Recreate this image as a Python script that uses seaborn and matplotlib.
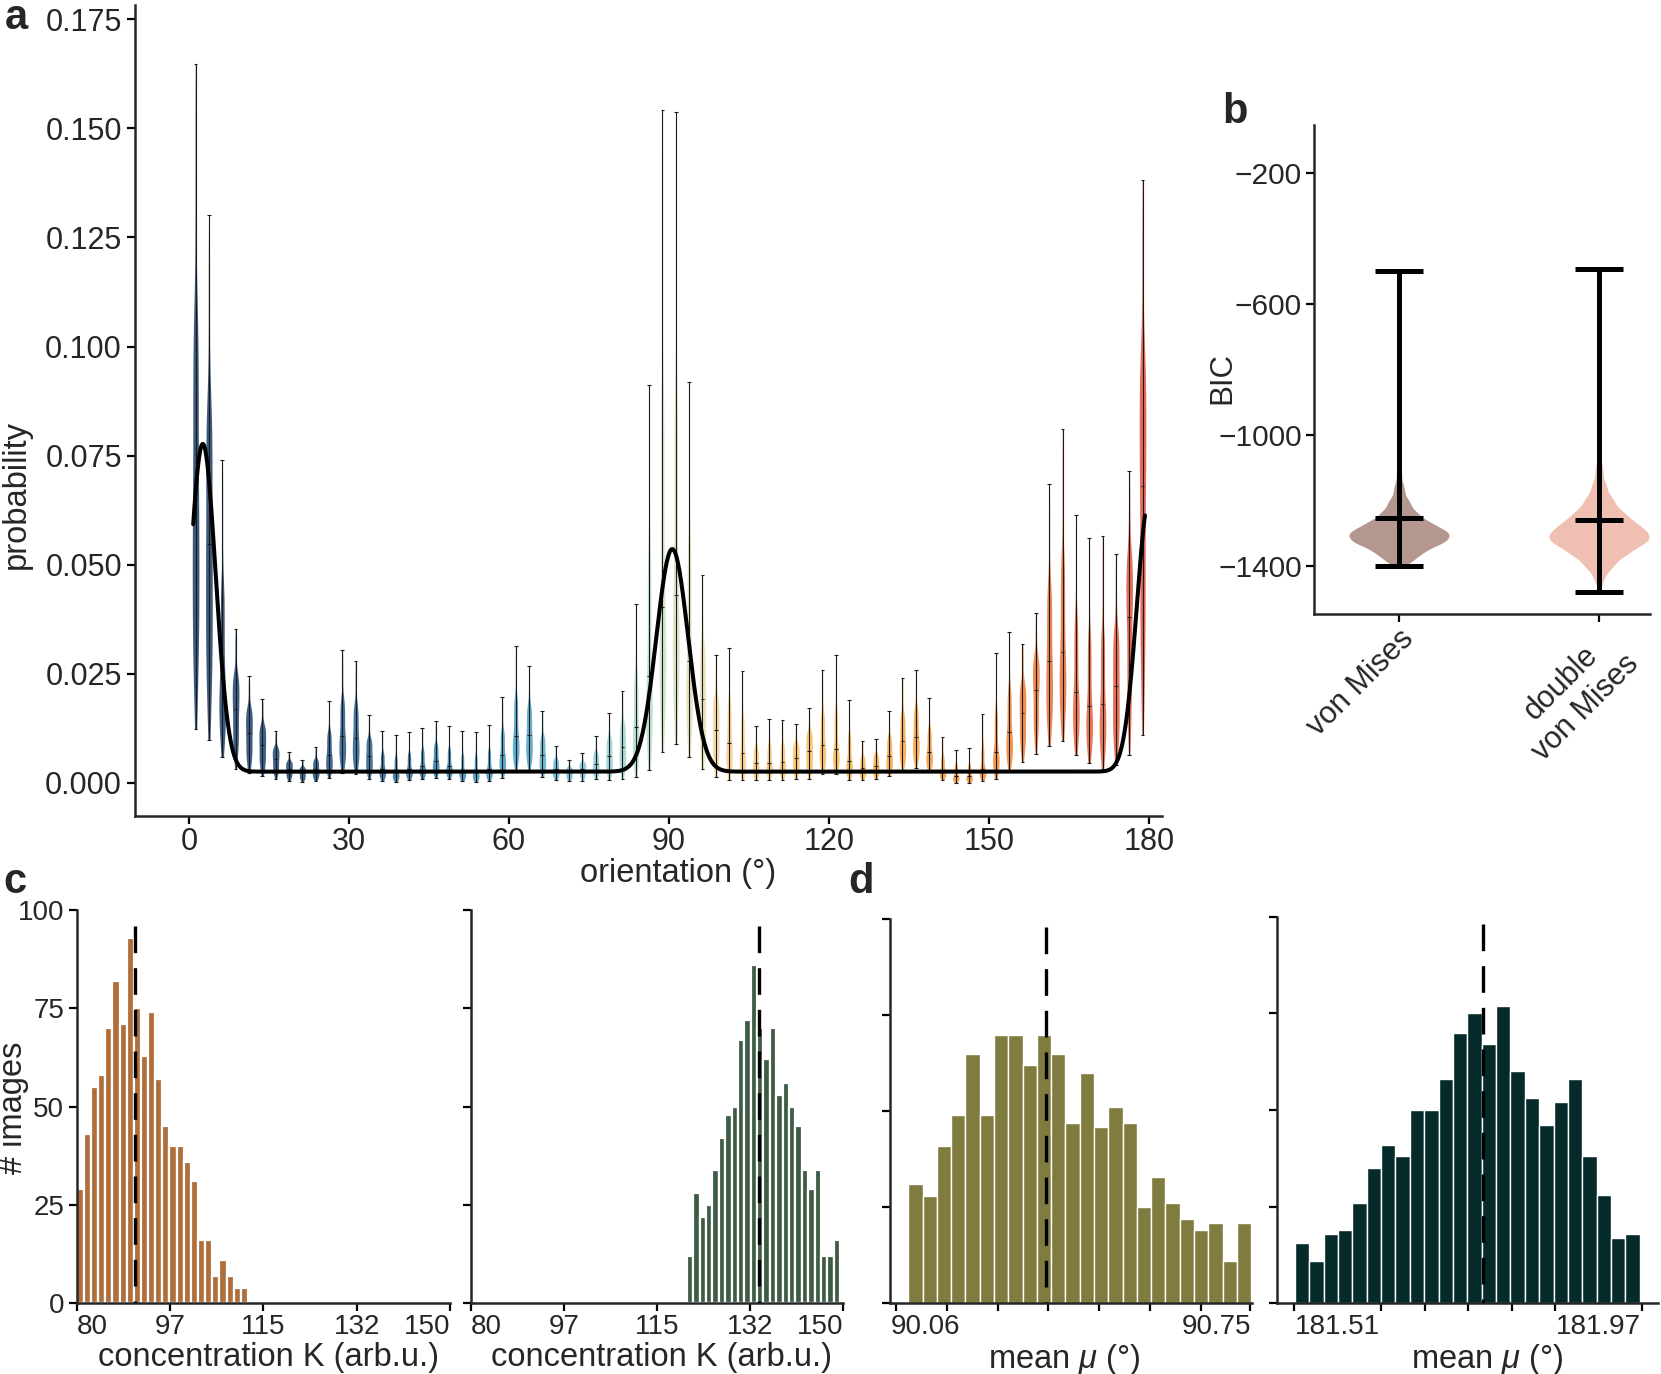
import numpy as np
import pandas as pd
import matplotlib
matplotlib.use("Agg")
import matplotlib.pyplot as plt
import seaborn as sns
from matplotlib.colors import LinearSegmentedColormap
from matplotlib.ticker import FixedLocator

sns.set_style("ticks")
plt.rcParams["font.family"] = ["Liberation Sans", "DejaVu Sans"]
plt.rcParams["mathtext.fontset"] = "custom"
plt.rcParams["mathtext.rm"] = "Liberation Sans"
plt.rcParams["mathtext.it"] = "Liberation Sans:italic"
plt.rcParams["axes.unicode_minus"] = True

# ------------------------------------------------------------------ panel a data
n_bins = 72
orient_centers = (np.arange(n_bins) + 0.5) * 180.0 / n_bins
prob_min = [0.0123, 0.0098, 0.0059, 0.0032, 0.0022, 0.0016, 0.0009, 0.0005, 0.0003, 0.0004,
            0.0011, 0.0022, 0.0020, 0.0009, 0.0005, 0.0002, 0.0006, 0.0008, 0.0012, 0.0009,
            0.0004, 0.0002, 0.0005, 0.0011, 0.0028, 0.0029, 0.0013, 0.0006, 0.0004, 0.0005,
            0.0008, 0.0007, 0.0009, 0.0014, 0.0029, 0.0071, 0.0089, 0.0060, 0.0033, 0.0013,
            0.0006, 0.0006, 0.0006, 0.0007, 0.0007, 0.0010, 0.0010, 0.0020, 0.0020, 0.0007,
            0.0006, 0.0008, 0.0015, 0.0029, 0.0035, 0.0024, 0.0006, 0.0000, 0.0000, 0.0004,
            0.0010, 0.0027, 0.0049, 0.0067, 0.0084, 0.0096, 0.0063, 0.0046, 0.0033, 0.0041,
            0.0063, 0.0111]
prob_q10 = [0.0280, 0.0233, 0.0113, 0.0073, 0.0050, 0.0037, 0.0023, 0.0013, 0.0009, 0.0012,
            0.0027, 0.0048, 0.0045, 0.0025, 0.0013, 0.0009, 0.0014, 0.0017, 0.0023, 0.0018,
            0.0011, 0.0009, 0.0013, 0.0027, 0.0052, 0.0053, 0.0028, 0.0014, 0.0010, 0.0013,
            0.0019, 0.0023, 0.0031, 0.0048, 0.0094, 0.0171, 0.0192, 0.0126, 0.0081, 0.0046,
            0.0032, 0.0025, 0.0018, 0.0019, 0.0019, 0.0024, 0.0029, 0.0040, 0.0037, 0.0020,
            0.0015, 0.0018, 0.0029, 0.0049, 0.0056, 0.0038, 0.0013, 0.0005, 0.0005, 0.0013,
            0.0028, 0.0054, 0.0082, 0.0111, 0.0143, 0.0158, 0.0107, 0.0085, 0.0077, 0.0095,
            0.0158, 0.0282]
prob_median = [0.0645, 0.0547, 0.0240, 0.0170, 0.0115, 0.0087, 0.0055, 0.0033, 0.0024, 0.0032,
               0.0064, 0.0108, 0.0104, 0.0062, 0.0033, 0.0024, 0.0032, 0.0038, 0.0050, 0.0038,
               0.0026, 0.0024, 0.0033, 0.0063, 0.0107, 0.0109, 0.0063, 0.0033, 0.0024, 0.0032,
               0.0043, 0.0061, 0.0082, 0.0128, 0.0246, 0.0403, 0.0431, 0.0280, 0.0192, 0.0122,
               0.0092, 0.0069, 0.0046, 0.0046, 0.0047, 0.0058, 0.0073, 0.0087, 0.0078, 0.0051,
               0.0035, 0.0040, 0.0062, 0.0096, 0.0105, 0.0071, 0.0030, 0.0017, 0.0016, 0.0033,
               0.0071, 0.0116, 0.0160, 0.0214, 0.0280, 0.0301, 0.0209, 0.0177, 0.0181, 0.0222,
               0.0381, 0.0681]
prob_q90 = [0.1096, 0.0886, 0.0465, 0.0252, 0.0174, 0.0134, 0.0083, 0.0051, 0.0037, 0.0055,
            0.0120, 0.0196, 0.0183, 0.0104, 0.0071, 0.0063, 0.0070, 0.0078, 0.0091, 0.0080,
            0.0067, 0.0066, 0.0078, 0.0123, 0.0200, 0.0181, 0.0109, 0.0056, 0.0037, 0.0048,
            0.0072, 0.0106, 0.0140, 0.0255, 0.0546, 0.0916, 0.0929, 0.0568, 0.0320, 0.0199,
            0.0190, 0.0154, 0.0084, 0.0091, 0.0091, 0.0092, 0.0118, 0.0164, 0.0175, 0.0114,
            0.0062, 0.0067, 0.0108, 0.0161, 0.0174, 0.0127, 0.0064, 0.0044, 0.0044, 0.0089,
            0.0173, 0.0220, 0.0231, 0.0293, 0.0463, 0.0531, 0.0391, 0.0350, 0.0355, 0.0358,
            0.0531, 0.0996]
prob_max = [0.1647, 0.1301, 0.0741, 0.0353, 0.0246, 0.0192, 0.0118, 0.0072, 0.0052, 0.0082,
            0.0188, 0.0304, 0.0279, 0.0155, 0.0118, 0.0111, 0.0117, 0.0126, 0.0141, 0.0131,
            0.0118, 0.0116, 0.0132, 0.0197, 0.0314, 0.0268, 0.0166, 0.0084, 0.0053, 0.0068,
            0.0108, 0.0161, 0.0211, 0.0410, 0.0913, 0.1542, 0.1538, 0.0919, 0.0477, 0.0293,
            0.0309, 0.0257, 0.0130, 0.0146, 0.0144, 0.0134, 0.0172, 0.0258, 0.0293, 0.0190,
            0.0096, 0.0100, 0.0165, 0.0241, 0.0258, 0.0195, 0.0106, 0.0076, 0.0079, 0.0157,
            0.0298, 0.0347, 0.0318, 0.0390, 0.0686, 0.0811, 0.0613, 0.0562, 0.0567, 0.0524,
            0.0714, 0.1381]
prob_levels = [0.0, 0.1, 0.5, 0.9, 1.0]

# fitted curve (sum of peaks over a constant baseline)
curve_range = (0.8, 179.2)
curve_baseline = 0.0026
curve_mu = [2.6, 90.6, 180.1]
curve_sigma = [2.4, 2.97, 2.4]
curve_amp = [0.0751, 0.0510, 0.0630]

a_xticks = [0, 30, 60, 90, 120, 150, 180]
a_yticks = [0.0, 0.025, 0.05, 0.075, 0.1, 0.125, 0.15, 0.175]
a_yticklabels = ["0.000", "0.025", "0.050", "0.075", "0.100", "0.125", "0.150", "0.175"]

# ------------------------------------------------------------------ panel b data
models = ["von Mises", "double\nvon Mises"]
bic_vm_levels = [0, 0.02, 0.08, 0.2, 0.4, 0.6, 0.75, 0.85, 0.92, 0.96, 0.985, 0.995, 1]
bic_vm_quantiles = [-1400, -1388, -1365, -1338, -1312, -1288, -1262, -1232, -1195, -1150,
                    -1090, -1020, -498.5]
bic_dvm_levels = [0, 0.01, 0.04, 0.12, 0.26, 0.42, 0.58, 0.72, 0.83, 0.91, 0.955, 0.985, 0.995, 1]
bic_dvm_quantiles = [-1479.5, -1445, -1410, -1372, -1338, -1313, -1288, -1260, -1228, -1188,
                     -1145, -1085, -1015, -491.8]
bic_min = [-1400, -1479.5]
bic_max = [-498.5, -491.8]
bic_center = [-1252.8, -1259.5]
b_yticks = [-200, -600, -1000, -1400]

# ------------------------------------------------------------------ panel c data
c1_counts = [29, 43, 55, 58, 70, 82, 71, 93, 75, 63, 74, 57, 45, 40, 40, 36, 31, 16, 16, 7, 11, 7, 4, 4]
c1_bin_start, c1_bin_width = 80.0, 1.338
c1_mean = 90.9
c2_counts = [12, 28, 22, 25, 34, 42, 48, 50, 67, 72, 86, 70, 62, 70, 53, 56, 50, 45, 34, 29, 34, 12, 12, 16]
c2_bin_start, c2_bin_width = 120.6, 1.2
c2_mean = 134.2
c_xticks = [80, 97.5, 115, 132.5, 150]
c_xticklabels = ["80", "97", "115", "132", "150"]
count_yticks = [0, 25, 50, 75, 100]

# ------------------------------------------------------------------ panel d data
d1_counts = [31, 28, 41, 49, 65, 49, 70, 70, 62, 70, 65, 47, 60, 46, 51, 47, 25, 33, 26, 22, 19, 21, 11, 21]
d1_bin_start, d1_bin_width = 90.018, 0.0339
d1_mean = 90.345
d1_label_pos = [90.06, 90.75]
d1_labels = ["90.06", "90.75"]
d1_tickmarks = [89.989, 90.110, 90.232, 90.350, 90.471, 90.592, 90.712, 90.829]
d2_counts = [15.5, 11, 18, 19, 26, 35, 41, 38, 50, 50, 58, 70, 75, 67, 77, 60, 53, 46, 52, 58, 38, 28, 17, 18]
d2_bin_start, d2_bin_width = 181.435, 0.02534
d2_mean = 181.766
d2_label_pos = [181.51, 181.97]
d2_labels = ["181.51", "181.97"]
d2_tickmarks = [181.434, 181.51, 181.587, 181.664, 181.741, 181.817, 181.894, 181.97, 182.047]

# ------------------------------------------------------------------ style
W, H = 1661, 1374
TICK_A, TICK_B, TICK_CD, LABEL = 22, 21.5, 20, 23.5
SPINE = 1.8

violin_stops = [(0.00, "#1b3a63"), (0.12, "#1f4c7a"), (0.20, "#2a6696"), (0.27, "#3686b3"),
                (0.35, "#4aa3c8"), (0.43, "#8ccfda"), (0.49, "#c9e3c6"), (0.53, "#eadfb5"),
                (0.57, "#fad089"), (0.64, "#fbc265"), (0.74, "#f8a843"), (0.84, "#f18a35"),
                (0.91, "#ea6c36"), (1.00, "#e0503f")]
cmap = LinearSegmentedColormap.from_list("orient", violin_stops)


def ax_at(l, t, r, b):
    return fig.add_axes([l / W, 1 - b / H, (r - l) / W, (b - t) / H])


def style_axes(ax, labelsize):
    sns.despine(ax=ax)
    for s in ["left", "bottom"]:
        ax.spines[s].set_linewidth(SPINE)
    ax.tick_params(which="both", direction="out", length=6, width=1.6,
                   labelsize=labelsize, color="black", pad=3)


fig = plt.figure(figsize=(W / 100, H / 100), dpi=100)

# ================================================================== panel a
ax = ax_at(134.5, 5.3, 1162, 815.7)
n_samp = 300
grid = np.linspace(0, 1, n_samp)
rows = []
for i, c in enumerate(orient_centers):
    q = [prob_min[i], prob_q10[i], prob_median[i], prob_q90[i], prob_max[i]]
    vals = np.interp(grid, prob_levels, q)
    rows.append(pd.DataFrame({"orientation": c, "prob": vals}))
df_a = pd.concat(rows, ignore_index=True)
pal_a = {c: cmap(c / 180.0) for c in orient_centers}
sns.violinplot(data=df_a, x="orientation", y="prob", hue="orientation", palette=pal_a,
               native_scale=True, inner=None, cut=0, density_norm="width", width=0.5,
               linewidth=0, bw_adjust=0.8, saturation=1, legend=False, alpha=0.85, ax=ax)
ax.vlines(orient_centers, prob_min, prob_max, color="#1a1a1a", lw=0.8, zorder=3)
for arr in (prob_min, prob_max, prob_median):
    ax.hlines(arr, orient_centers - 0.35, orient_centers + 0.35, color="#1a1a1a", lw=0.8, zorder=3)

xc = np.linspace(curve_range[0], curve_range[1], 1500)
yc = np.full_like(xc, curve_baseline)
for mu, sg, am in zip(curve_mu, curve_sigma, curve_amp):
    yc = yc + am * np.exp(-(xc - mu) ** 2 / (2 * sg ** 2))
sns.lineplot(x=xc, y=yc, color="black", lw=2.9, ax=ax, zorder=4)

ax.set_xlim(-10.2, 182.4)
ax.set_ylim(-0.0075, 0.1782)
ax.set_xticks(a_xticks)
ax.set_xticklabels([str(t) for t in a_xticks])
ax.set_yticks(a_yticks)
ax.set_yticklabels(a_yticklabels)
style_axes(ax, TICK_A)
ax.tick_params(axis="x", pad=2)
ax.set_xlabel("orientation (°)", fontsize=LABEL)
ax.set_ylabel("probability", fontsize=LABEL)
ax.xaxis.set_label_coords(0.529, -0.052)
ax.yaxis.set_label_coords(-0.10, 0.396)

# ================================================================== panel b
axb = ax_at(1314.3, 125.5, 1650, 614.3)
rows = []
for m, lv, qs in zip(models, [bic_vm_levels, bic_dvm_levels], [bic_vm_quantiles, bic_dvm_quantiles]):
    vals = np.interp(np.linspace(0, 1, 3000), lv, qs)
    rows.append(pd.DataFrame({"model": m, "BIC": vals}))
df_b = pd.concat(rows, ignore_index=True)
sns.violinplot(data=df_b, x="model", y="BIC", hue="model", order=models,
               palette=["#b4978e", "#efbfb2"], inner=None, cut=0, density_norm="width",
               width=0.5, linewidth=0, bw_adjust=0.8, saturation=1, legend=False,
               gridsize=300, ax=axb)
xb = np.arange(len(models))
axb.vlines(xb, bic_min, bic_max, color="black", lw=3.6, zorder=3)
for arr in (bic_min, bic_max, bic_center):
    axb.hlines(arr, xb - 0.12, xb + 0.12, color="black", lw=3.6, zorder=3)
axb.set_xlim(-0.4235, 1.255)
axb.set_ylim(-1548.6, -54)
axb.set_yticks(b_yticks)
axb.set_yticklabels(["\u2212" + str(abs(v)) for v in b_yticks])
style_axes(axb, TICK_B)
axb.set_xticks(xb)
axb.set_xticklabels(models, rotation=45, ha="right", va="top", rotation_mode="anchor",
                    multialignment="center", fontsize=22)
axb.tick_params(axis="x", pad=1)
axb.set_xlabel("")
axb.set_ylabel("BIC", fontsize=LABEL - 1)
axb.yaxis.set_label_coords(-0.23, 0.483)

# ================================================================== panels c, d
def hist_panel(box, counts, start, width, color, mean, dash_top, edge_lw):
    axh = ax_at(*box)
    counts = np.asarray(counts, dtype=float)
    edges = start + width * np.arange(len(counts) + 1)
    centers = (edges[:-1] + edges[1:]) / 2
    dfh = pd.DataFrame({"value": centers, "count": counts})
    sns.histplot(data=dfh, x="value", weights="count", bins=list(edges), color=color,
                 alpha=1, edgecolor="white", linewidth=edge_lw, ax=axh)
    axh.vlines([mean], dash_top, 0, color="black", lw=2.4, linestyles=[(0, (8, 4.5))], zorder=3)
    axh.set_ylim(0, 100)
    axh.set_yticks(count_yticks)
    style_axes(axh, TICK_CD)
    axh.set_ylabel("")
    return axh


c1 = hist_panel((76.7, 910, 450, 1303.3), c1_counts, c1_bin_start, c1_bin_width,
                "#b06e3a", c1_mean, 96, 1.6)
c2 = hist_panel((470.7, 910, 843.3, 1303.3), c2_counts, c2_bin_start, c2_bin_width,
                "#3e5b45", c2_mean, 96, 1.6)
for axh in (c1, c2):
    axh.set_xlim(80, 150)
    axh.set_xticks(c_xticks)
    axh.set_xticklabels(c_xticklabels)
    axh.tick_params(axis="x", pad=2)
    tl = axh.get_xticklabels()
    tl[0].set_horizontalalignment("left")
    tl[-1].set_horizontalalignment("right")
    axh.set_xlabel("concentration K (arb.u.)", fontsize=LABEL)
c1.xaxis.set_label_coords(0.515, -0.099)
c2.xaxis.set_label_coords(0.513, -0.099)
c1.set_ylabel("# images", fontsize=LABEL)
c1.yaxis.set_label_coords(-0.128, 0.497)
c2.tick_params(labelleft=False)

d1 = hist_panel((890, 919.3, 1251.7, 1303.3), d1_counts, d1_bin_start, d1_bin_width,
                "#807b3f", d1_mean, 98, 1.0)
d1.set_xlim(89.9746, 90.833)
d2 = hist_panel((1276.7, 916.7, 1658.3, 1303.3), d2_counts, d2_bin_start, d2_bin_width,
                "#042a2a", d2_mean, 98, 1.0)
d2.set_xlim(181.403, 182.0757)
for axh, pos, labs, marks, xl in ((d1, d1_label_pos, d1_labels, d1_tickmarks, 0.481),
                                  (d2, d2_label_pos, d2_labels, d2_tickmarks, 0.551)):
    axh.set_xticks(pos)
    axh.set_xticklabels(labs)
    axh.xaxis.set_minor_locator(FixedLocator(marks))
    axh.tick_params(axis="x", which="major", length=0, pad=8)
    axh.tick_params(axis="x", which="minor", length=6, width=1.6)
    axh.tick_params(labelleft=False)
    axh.set_xlabel("mean $\\mu$ (°)", fontsize=LABEL)
    axh.xaxis.set_label_coords(xl, -0.1)

# ================================================================== panel letters
for letter, (px, py) in {"a": (16, 18), "b": (1235, 112), "c": (15, 882), "d": (861, 882)}.items():
    fig.text(px / W, 1 - py / H, letter, fontsize=30, fontweight="bold", ha="center", va="center")

fig.savefig("out.png", dpi=100)
